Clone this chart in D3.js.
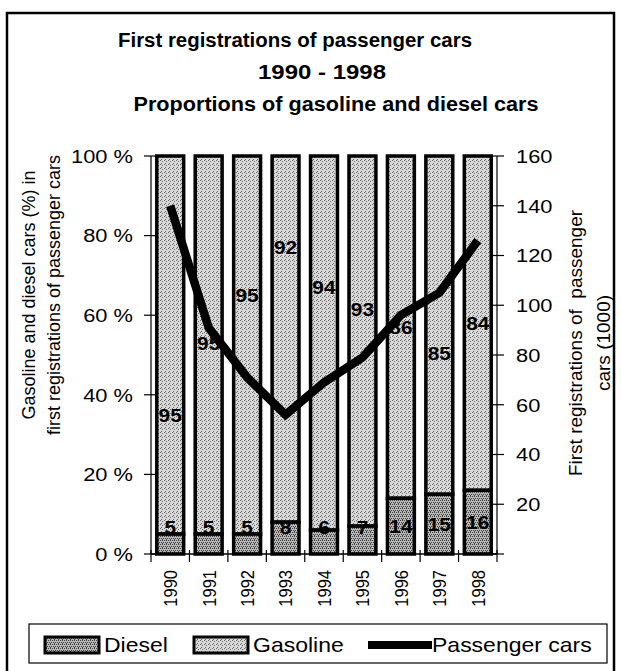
<!DOCTYPE html>
<html>
<head>
<meta charset="utf-8">
<script src="https://cdn.jsdelivr.net/npm/d3@7"></script>
<style>
  body { margin: 0; background: #fff; }
  text { font-family: "Liberation Sans", Arial, sans-serif; fill: #000; }
</style>
</head>
<body>
<div id="chart"></div>
<script>
// values
const years = ["1990", "1991", "1992", "1993", "1994", "1995", "1996", "1997", "1998"];
const diesel = [5, 5, 5, 8, 6, 7, 14, 15, 16];
const gasoline = [95, 95, 95, 92, 94, 93, 86, 85, 84];
const cars = [140, 91, 71, 56, 69, 79, 96, 105, 126];
// level (in %) where each gasoline label sits in the original
const gasLabelAt = [35, 53, 65, 77, 67, 61.5, 57, 50.5, 58];
const pctTicks = [0, 20, 40, 60, 80, 100];
const carTicks = [0, 20, 40, 60, 80, 100, 120, 140, 160];
const titles = ["First registrations of passenger cars", "1990 - 1998", "Proportions of gasoline and diesel cars"];

const width = 621, height = 671;
const margin = { top: 156, right: 124, bottom: 117, left: 151 };
const stretch = 1.15; // the scan is a bit wider than tall

const svg = d3.select("#chart").append("svg")
  .attr("width", width)
  .attr("height", height);

// stipple fills
const defs = svg.append("defs");
function stipple(id, base, dots, dotColor) {
  const p = defs.append("pattern")
    .attr("id", id)
    .attr("width", 4).attr("height", 4)
    .attr("patternUnits", "userSpaceOnUse");
  p.append("rect").attr("width", 4).attr("height", 4).attr("fill", base);
  dots.forEach(d => p.append("rect")
    .attr("x", d[0]).attr("y", d[1]).attr("width", 1).attr("height", 1)
    .attr("fill", dotColor));
}
stipple("gasPat", "#d9d9d9", [[0, 0], [2, 1], [1, 3]], "#686868");
stipple("dieselPat", "#b8b8b8", [[0, 0], [2, 0], [1, 2], [3, 2], [2, 3]], "#404040");

// text placed at (x, y) and widened like the scan
function wideText(g, x, y, s, size) {
  return g.append("text")
    .attr("transform", `translate(${x}, ${y}) scale(${s}, 1)`)
    .attr("font-size", size);
}

// outer frame
svg.append("rect")
  .attr("x", 7).attr("y", 13)
  .attr("width", 607).attr("height", 700)
  .attr("fill", "none").attr("stroke", "#000").attr("stroke-width", 2.5);

// titles (each line sits in its own box in the original)
const titleCenter = [295, 322, 336];
const titleLength = [354, 128, 405];
svg.selectAll(".title")
  .data(titles)
  .enter()
  .append("text")
  .attr("class", "title")
  .attr("x", (d, i) => titleCenter[i])
  .attr("y", (d, i) => 47 + i * 32)
  .attr("text-anchor", "middle")
  .attr("font-weight", "bold")
  .attr("font-size", "20px")
  .attr("textLength", (d, i) => titleLength[i])
  .attr("lengthAdjust", "spacingAndGlyphs")
  .text(d => d);

const xScale = d3.scaleBand()
  .domain(years)
  .range([margin.left, width - margin.right])
  .paddingInner(0.3)
  .paddingOuter(0.15);

const yPct = d3.scaleLinear()
  .domain([0, 100])
  .range([height - margin.bottom, margin.top]);

const yCars = d3.scaleLinear()
  .domain([0, 160])
  .range([height - margin.bottom, margin.top]);

const x0 = margin.left, x1 = width - margin.right;
const yBottom = height - margin.bottom;
const mid = d => xScale(d) + xScale.bandwidth() / 2;

// bars
const bars = svg.append("g");
bars.selectAll(".gas")
  .data(years)
  .enter()
  .append("rect")
  .attr("class", "gas")
  .attr("x", d => xScale(d))
  .attr("y", (d, i) => yPct(diesel[i] + gasoline[i]))
  .attr("width", xScale.bandwidth())
  .attr("height", (d, i) => yPct(diesel[i]) - yPct(diesel[i] + gasoline[i]))
  .attr("fill", "url(#gasPat)")
  .attr("stroke", "#000")
  .attr("stroke-width", 3.5);

bars.selectAll(".diesel")
  .data(years)
  .enter()
  .append("rect")
  .attr("class", "diesel")
  .attr("x", d => xScale(d))
  .attr("y", (d, i) => yPct(diesel[i]))
  .attr("width", xScale.bandwidth())
  .attr("height", (d, i) => yBottom - yPct(diesel[i]))
  .attr("fill", "url(#dieselPat)")
  .attr("stroke", "#000")
  .attr("stroke-width", 3.5);

// left axis
const left = svg.append("g");
left.append("line")
  .attr("x1", x0).attr("x2", x0)
  .attr("y1", yPct(100)).attr("y2", yBottom)
  .attr("stroke", "#000").attr("stroke-width", 1.2);
left.selectAll(".tick")
  .data(pctTicks)
  .enter()
  .append("line")
  .attr("x1", x0 - 7).attr("x2", x0 + 4)
  .attr("y1", d => yPct(d)).attr("y2", d => yPct(d))
  .attr("stroke", "#000").attr("stroke-width", 1.2);
pctTicks.forEach(d => {
  wideText(left, x0 - 18, yPct(d), stretch, "19px")
    .attr("dy", "0.36em")
    .attr("text-anchor", "end")
    .text(d + " %");
});

// right axis
const right = svg.append("g");
right.append("line")
  .attr("x1", x1).attr("x2", x1)
  .attr("y1", yCars(160)).attr("y2", yBottom)
  .attr("stroke", "#000").attr("stroke-width", 1.2);
right.selectAll(".tick")
  .data(carTicks)
  .enter()
  .append("line")
  .attr("x1", x1 - 5).attr("x2", x1 + 7)
  .attr("y1", d => yCars(d)).attr("y2", d => yCars(d))
  .attr("stroke", "#000").attr("stroke-width", 1.2);
carTicks.filter(d => d > 0).forEach(d => {
  wideText(right, x1 + 19, yCars(d), stretch, "19px")
    .attr("dy", "0.36em")
    .text(d);
});

// bottom axis: ticks at category boundaries
const bottom = svg.append("g");
bottom.append("line")
  .attr("x1", x0).attr("x2", x1)
  .attr("y1", yBottom).attr("y2", yBottom)
  .attr("stroke", "#000").attr("stroke-width", 1.5);
bottom.selectAll(".tick")
  .data(d3.range(years.length + 1))
  .enter()
  .append("line")
  .attr("x1", i => x0 + i * xScale.step())
  .attr("x2", i => x0 + i * xScale.step())
  .attr("y1", yBottom - 4).attr("y2", yBottom + 8)
  .attr("stroke", "#000").attr("stroke-width", 1.2);
bottom.selectAll(".lbl")
  .data(years)
  .enter()
  .append("text")
  .attr("transform", d => `translate(${mid(d)}, ${yBottom + 16}) rotate(-90) scale(1, ${stretch})`)
  .attr("dy", "0.36em")
  .attr("text-anchor", "end")
  .attr("font-size", "16.5px")
  .text(d => d);

// value labels
const labels = svg.append("g").attr("font-weight", "bold");
years.forEach((d, i) => {
  wideText(labels, mid(d), yPct(gasLabelAt[i]), 1.1, "19px")
    .attr("dy", "0.36em")
    .attr("text-anchor", "middle")
    .text(gasoline[i]);
  wideText(labels, mid(d), yPct(Math.max(diesel[i] / 2, 6.8)), 1.1, "19px")
    .attr("dy", "0.36em")
    .attr("text-anchor", "middle")
    .text(diesel[i]);
});

// passenger cars line
const line = d3.line()
  .x((d, i) => mid(years[i]))
  .y(d => yCars(d));
svg.append("path")
  .datum(cars)
  .attr("d", line)
  .attr("fill", "none")
  .attr("stroke", "#000")
  .attr("stroke-width", 8.5)
  .attr("stroke-linejoin", "miter");

// left axis title
svg.append("text")
  .attr("transform", "translate(35, 295) rotate(-90)")
  .attr("text-anchor", "middle")
  .attr("font-size", "18px")
  .selectAll("tspan")
  .data(["Gasoline and diesel cars (%) in", "first registrations of passenger cars"])
  .enter()
  .append("tspan")
  .attr("x", 0)
  .attr("dy", (d, i) => i == 0 ? 0 : 25)
  .text(d => d);

// right axis title
svg.append("text")
  .attr("transform", "translate(582, 343) rotate(-90)")
  .attr("text-anchor", "middle")
  .attr("font-size", "19px")
  .attr("xml:space", "preserve")
  .selectAll("tspan")
  .data(["First registrations of  passenger", "cars (1000)"])
  .enter()
  .append("tspan")
  .attr("x", 0)
  .attr("dy", (d, i) => i == 0 ? 0 : 28)
  .text(d => d);

// legend
const legend = svg.append("g");
legend.append("rect")
  .attr("x", 29).attr("y", 624)
  .attr("width", 578).attr("height", 39)
  .attr("fill", "#fff").attr("stroke", "#000").attr("stroke-width", 1.2);
legend.append("rect")
  .attr("x", 45).attr("y", 637).attr("width", 54).attr("height", 16)
  .attr("fill", "url(#dieselPat)").attr("stroke", "#000").attr("stroke-width", 3);
wideText(legend, 104, 652, stretch, "20px").text("Diesel");
legend.append("rect")
  .attr("x", 194).attr("y", 637).attr("width", 54).attr("height", 16)
  .attr("fill", "url(#gasPat)").attr("stroke", "#000").attr("stroke-width", 3);
wideText(legend, 253, 652, stretch, "20px").text("Gasoline");
legend.append("line")
  .attr("x1", 368).attr("x2", 432).attr("y1", 645).attr("y2", 645)
  .attr("stroke", "#000").attr("stroke-width", 8);
wideText(legend, 432, 652, stretch, "20px").text("Passenger cars");
</script>
</body>
</html>
